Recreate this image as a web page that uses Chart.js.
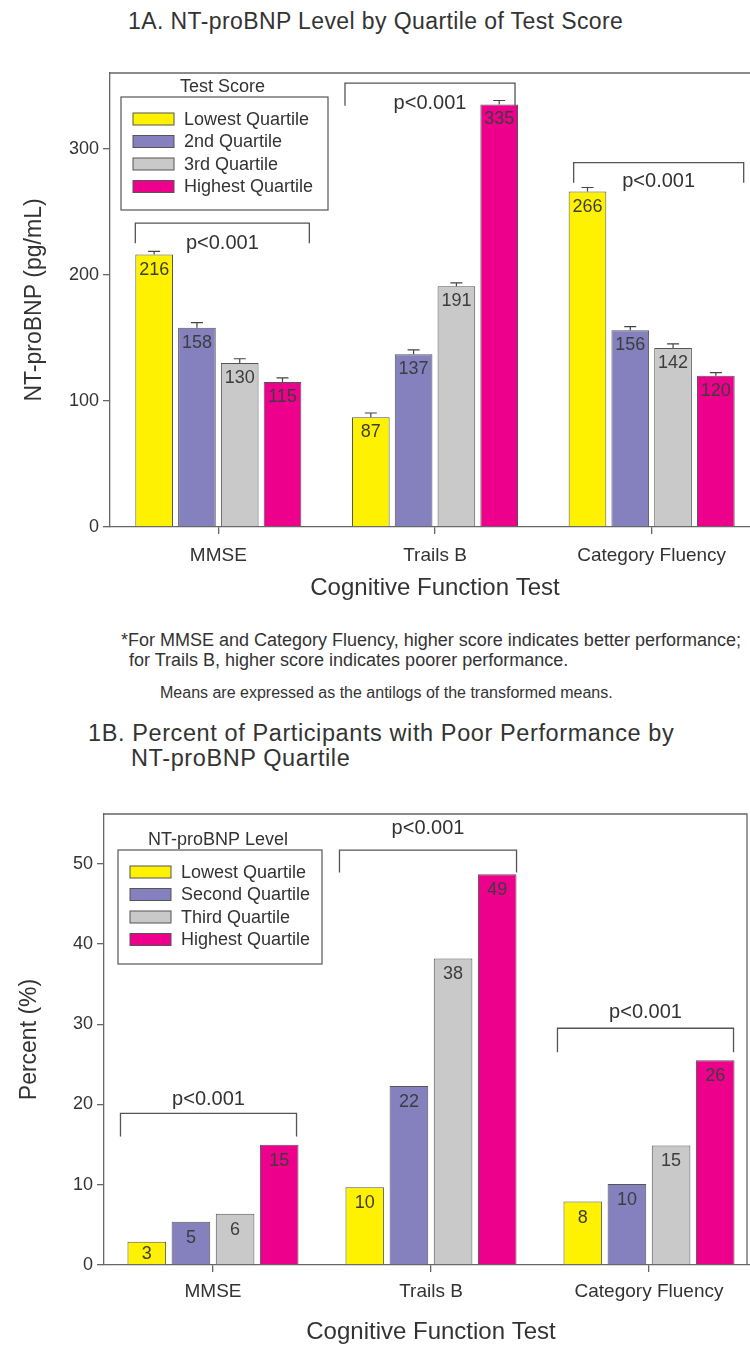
<!DOCTYPE html>
<html>
<head>
<meta charset="utf-8">
<title>NT-proBNP y funcion cognitiva</title>
<script src="https://cdn.jsdelivr.net/npm/chart.js@4.4.0/dist/chart.umd.min.js"></script>
<style>
  body { margin: 0; width: 750px; height: 1347px; overflow: hidden; background: #fff; position: relative;
         font-family: "Liberation Sans", Arial, sans-serif; color: #333; }
  .t { position: absolute; white-space: nowrap; line-height: 1; }
  #grafico1 { position: absolute; left: 0; top: 0; }
  #grafico2 { position: absolute; left: 0; top: 780px; }
</style>
</head>
<body>
<div class="t" style="left:128px;top:10px;font-size:23px;letter-spacing:0.4px;">1A. NT-proBNP Level by Quartile of Test Score</div>
<canvas id="grafico1" width="770" height="620"></canvas>
<div class="t" style="left:121px;top:631px;font-size:18px;">*For MMSE and Category Fluency, higher score indicates better performance;</div>
<div class="t" style="left:129px;top:651px;font-size:18px;">for Trails B, higher score indicates poorer performance.</div>
<div class="t" style="left:160px;top:685px;font-size:16px;">Means are expressed as the antilogs of the transformed means.</div>
<div class="t" style="left:88px;top:722px;font-size:23.5px;letter-spacing:0.6px;">1B. Percent of Participants with Poor Performance by</div>
<div class="t" style="left:131px;top:747px;font-size:23.5px;letter-spacing:0.6px;">NT-proBNP Quartile</div>
<canvas id="grafico2" width="770" height="567"></canvas>
<script>
var pruebas = ['MMSE', 'Trails B', 'Category Fluency'];
var colores = ['#FFF200', '#8580BE', '#C9C9C9', '#EC008C'];

// 1A  NT-proBNP (pg/mL) por cuartil del puntaje
var nombresA = ['Lowest Quartile', '2nd Quartile', '3rd Quartile', 'Highest Quartile'];
var bnpLowest = [216, 87, 266];
var bnp2nd = [158, 137, 156];
var bnp3rd = [130, 191, 142];
var bnpHighest = [115, 335, 120];
var errLowest = [2.6, 3.4, 3.2];
var err2nd = [4.0, 3.4, 2.9];
var err3rd = [3.4, 2.6, 3.2];
var errHighest = [3.2, 3.2, 2.4];
var ticksA = [0, 100, 200, 300];
var llaveA = [241, 352, 289];
var pataA = [225, 334, 273];
var textoA = [226, 337, 275];

// 1B  porcentaje con bajo rendimiento por cuartil de NT-proBNP
var nombresB = ['Lowest Quartile', 'Second Quartile', 'Third Quartile', 'Highest Quartile'];
var pctLowest = [2.9, 9.7, 7.9];
var pctSecond = [5.4, 22.3, 10.1];
var pctThird = [6.4, 38.2, 14.9];
var pctHighest = [15.0, 48.7, 25.5];
var etiqLowest = [3, 10, 8];
var etiqSecond = [5, 22, 10];
var etiqThird = [6, 38, 15];
var etiqHighest = [15, 49, 26];
var ticksB = [0, 10, 20, 30, 40, 50];
var llaveB = [18.9, 51.7, 29.5];
var pataB = [16.0, 48.9, 26.5];
var textoB = [20.8, 54.5, 31.6];

var FUENTE = '"Liberation Sans", Arial, sans-serif';
Chart.defaults.font.family = FUENTE;
Chart.defaults.color = '#333';

function hacerDatasets(nombres, series, errores, etiquetas) {
  var ds = [];
  for (let i = 0; i < series.length; i++) {
    ds.push({
      label: nombres[i],
      data: series[i],
      errores: errores ? errores[i] : null,
      etiquetas: etiquetas ? etiquetas[i] : series[i],
      backgroundColor: colores[i],
      borderColor: '#555',
      borderWidth: 1
    });
  }
  return ds;
}

function pluginFigura(op) {
  return {
    id: 'figura',
    afterDatasetsDraw: function (chart) {
      var ctx = chart.ctx;
      var y = chart.scales.y;
      var area = chart.chartArea;
      ctx.save();

      // barras de error y valores
      chart.data.datasets.forEach(function (ds, i) {
        var meta = chart.getDatasetMeta(i);
        meta.data.forEach(function (bar, j) {
          if (ds.errores) {
            var ye = y.getPixelForValue(ds.data[j] + ds.errores[j]);
            ctx.strokeStyle = '#444';
            ctx.lineWidth = 1.2;
            ctx.beginPath();
            ctx.moveTo(bar.x, bar.y);
            ctx.lineTo(bar.x, ye);
            ctx.moveTo(bar.x - 6, ye);
            ctx.lineTo(bar.x + 6, ye);
            ctx.stroke();
          }
          ctx.fillStyle = '#3d3d3d';
          ctx.font = '18px ' + FUENTE;
          ctx.textAlign = 'center';
          ctx.textBaseline = 'middle';
          var yt = Math.min(bar.y + op.bajada, (bar.y + bar.base) / 2);
          ctx.fillText(String(ds.etiquetas[j]), bar.x, yt + 1);
        });
      });

      // llaves p<0.001
      var m0 = chart.getDatasetMeta(0), m3 = chart.getDatasetMeta(chart.data.datasets.length - 1);
      ctx.strokeStyle = '#555';
      ctx.lineWidth = 1.3;
      for (let j = 0; j < pruebas.length; j++) {
        var b0 = m0.data[j], b3 = m3.data[j];
        var xl = b0.x - b0.width / 2 + op.dx[j][0];
        var xr = b3.x + b3.width / 2 + op.dx[j][1];
        var yl = y.getPixelForValue(op.llave[j]);
        var yp = y.getPixelForValue(op.pata[j]);
        ctx.beginPath();
        ctx.moveTo(xl, yp);
        ctx.lineTo(xl, yl);
        ctx.lineTo(xr, yl);
        ctx.lineTo(xr, yp);
        ctx.stroke();
        ctx.fillStyle = '#333';
        ctx.font = '20px ' + FUENTE;
        ctx.textAlign = 'center';
        ctx.textBaseline = 'middle';
        ctx.fillText('p<0.001', (xl + xr) / 2, y.getPixelForValue(op.texto[j]) + 1);
      }

      // leyenda
      var L = op.leyenda;
      ctx.fillStyle = '#fff';
      ctx.fillRect(L.x, L.y, L.w, L.h);
      ctx.strokeStyle = '#555';
      ctx.lineWidth = 1.2;
      ctx.strokeRect(L.x, L.y, L.w, L.h);
      ctx.fillStyle = '#333';
      ctx.font = '18px ' + FUENTE;
      ctx.textAlign = 'center';
      ctx.textBaseline = 'middle';
      ctx.fillText(L.titulo, L.x + L.w / 2 - 2, L.y - 10);
      ctx.textAlign = 'left';
      chart.data.datasets.forEach(function (ds, i) {
        var yy = L.y + 22 + i * 22.5;
        ctx.fillStyle = ds.backgroundColor;
        ctx.fillRect(L.x + 12, yy - 6, 41, 12);
        ctx.strokeStyle = '#555';
        ctx.lineWidth = 1;
        ctx.strokeRect(L.x + 12, yy - 6, 41, 12);
        ctx.fillStyle = '#333';
        ctx.fillText(ds.label, L.x + 63, yy + 1);
      });

      // marco
      ctx.strokeStyle = '#666';
      ctx.lineWidth = 1.3;
      ctx.beginPath();
      ctx.moveTo(area.left, area.top);
      ctx.lineTo(op.marcoDerecho, area.top);
      ctx.lineTo(op.marcoDerecho, area.bottom);
      ctx.stroke();
      ctx.restore();
    }
  };
}

function crear_grafico(canva, datasets, ejeY, ticksY, maxY, op) {
  var ctx = document.getElementById(canva).getContext('2d');
  return new Chart(ctx, {
    type: 'bar',
    data: { labels: pruebas, datasets: datasets },
    plugins: [pluginFigura(op)],
    options: {
      responsive: false,
      animation: false,
      layout: { padding: { top: op.arriba, right: op.derecha, left: 0, bottom: 0 } },
      datasets: { bar: { barPercentage: op.barPct, categoryPercentage: op.catPct } },
      plugins: { legend: { display: false }, tooltip: { enabled: false } },
      scales: {
        x: {
          grid: { display: true, drawOnChartArea: false, drawTicks: true, tickLength: 7, offset: false, color: '#666', lineWidth: 1.3 },
          border: { display: true, color: '#666', width: 1.3 },
          ticks: { font: { size: 19 }, padding: op.padX, color: '#333' },
          title: { display: true, text: 'Cognitive Function Test', font: { size: 24 }, padding: { top: 0, bottom: op.padTituloX }, color: '#333' },
          afterFit: function (s) { s.height = op.altoX; }
        },
        y: {
          min: 0,
          max: maxY,
          grid: { display: true, drawOnChartArea: false, drawTicks: true, tickLength: 7, color: '#666', lineWidth: 1.3 },
          border: { display: true, color: '#666', width: 1.3 },
          ticks: { font: { size: 18 }, padding: 4, color: '#333' },
          afterBuildTicks: function (s) {
            s.ticks = ticksY.map(function (v) { return { value: v }; });
          },
          title: { display: true, text: ejeY, font: { size: 23 }, padding: { top: op.padTituloY, bottom: 0 }, color: '#333' },
          afterFit: function (s) { s.width = op.anchoY; }
        }
      }
    }
  });
}

crear_grafico('grafico1',
  hacerDatasets(nombresA, [bnpLowest, bnp2nd, bnp3rd, bnpHighest], [errLowest, err2nd, err3rd, errHighest], null),
  'NT-proBNP (pg/mL)', ticksA, 360, {
    arriba: 73, derecha: 10, anchoY: 110, altoX: 93, padX: 10.6, padTituloX: 17.6, padTituloY: 21.2,
    barPct: 0.88, catPct: 0.79, bajada: 14,
    llave: llaveA, pata: pataA, texto: textoA,
    dx: [[0, 8], [-7, -3], [5, 9]],
    leyenda: { x: 121, y: 97, w: 207, h: 113, titulo: 'Test Score' },
    marcoDerecho: 760
  });

crear_grafico('grafico2',
  hacerDatasets(nombresB, [pctLowest, pctSecond, pctThird, pctHighest], null, [etiqLowest, etiqSecond, etiqThird, etiqHighest]),
  'Percent (%)', ticksB, 56.2, {
    arriba: 34, derecha: 12, anchoY: 104, altoX: 82, padX: 8.6, padTituloX: 0, padTituloY: 16.2,
    barPct: 0.875, catPct: 0.81, bajada: 15,
    llave: llaveB, pata: pataB, texto: textoB,
    dx: [[-7, -2], [-6, 0], [-6, -1]],
    leyenda: { x: 118, y: 70, w: 204, h: 114, titulo: 'NT-proBNP Level' },
    marcoDerecho: 747
  });
</script>
</body>
</html>
